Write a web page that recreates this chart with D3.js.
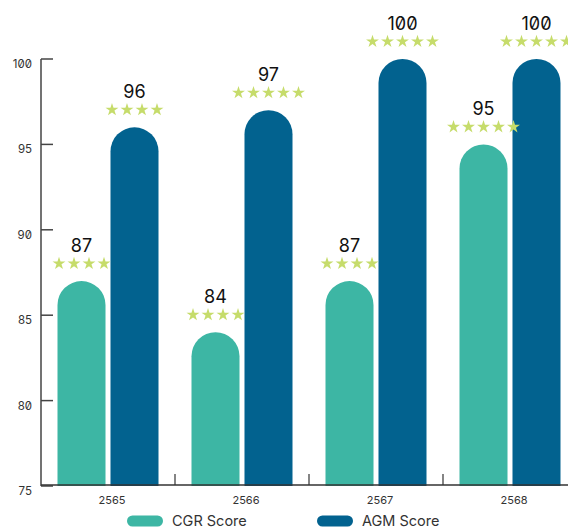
<!DOCTYPE html>
<html>
<head>
<meta charset="utf-8">
<script src="https://cdn.jsdelivr.net/npm/d3@7"></script>
<style>
  html, body { margin: 0; padding: 0; overflow: hidden; background: #fff; }
  svg { display: block; font-family: Inter, "Noto Sans", sans-serif; font-feature-settings: "zero" 1; }
</style>
</head>
<body>
<svg id="chart" width="568" height="530"></svg>
<script>
const years = ['2565', '2566', '2567', '2568'];
const seriesNames = ['CGR Score', 'AGM Score'];
const cgrScores = [87, 84, 87, 95];
const agmScores = [96, 97, 100, 100];
const cgrStars = [4, 4, 4, 5];
const agmStars = [4, 5, 5, 5];
const yTicks = [75, 80, 85, 90, 95, 100];
const colors = ['#3db6a4', '#02628f'];
const starColor = '#c6dc6b';

(function () {
const svg = d3.select('#chart');
const W = 568;
const plotLeft = 41, plotBottom = 486, plotTop = 59;

const y = d3.scaleLinear().domain([75, 100]).range([plotBottom, plotTop]);
const x0 = d3.scaleBand().domain(years).range([plotLeft, plotLeft + 134 * 4]).paddingInner(0).paddingOuter(0);
const x1 = d3.scaleBand().domain(seriesNames).range([16.5, 117.5]).paddingInner(0.094).paddingOuter(0);

const data = years.map((yr, i) => ({
  year: yr,
  bars: [
    { name: seriesNames[0], value: cgrScores[i], stars: cgrStars[i], color: colors[0] },
    { name: seriesNames[1], value: agmScores[i], stars: agmStars[i], color: colors[1] }
  ]
}));

function pillPath(xa, xb, yt, yb) {
  const r = (xb - xa) / 2;
  return `M${xa},${yb}L${xa},${yt + r}A${r},${r} 0 0 1 ${xb},${yt + r}L${xb},${yb}Z`;
}

const groups = svg.append('g').selectAll('g').data(data).join('g')
  .attr('transform', d => `translate(${x0(d.year)},0)`);

groups.selectAll('path.bar').data(d => d.bars).join('path')
  .attr('class', 'bar')
  .attr('fill', d => d.color)
  .attr('d', d => {
    const xa = x1(d.name), xb = xa + x1.bandwidth();
    return pillPath(xa, xb, y(d.value), y(75));
  });

groups.selectAll('text.val').data(d => d.bars).join('text')
  .attr('class', 'val')
  .attr('x', d => x1(d.name) + x1.bandwidth() / 2)
  .attr('y', d => y(d.value) - 29)
  .attr('text-anchor', 'middle')
  .attr('font-size', 18)
  .attr('fill', '#111')
  .text(d => d.value);

const starPath = d3.symbol().type(d3.symbolStar).size(52)();
groups.each(function (d) {
  const g = d3.select(this);
  d.bars.forEach(b => {
    const cx = x1(b.name) + x1.bandwidth() / 2;
    const cy = y(b.value) - 18;
    const n = b.stars, step = 15;
    for (let k = 0; k < n; k++) {
      const sx = cx + (k - (n - 1) / 2) * step;
      g.append('path').attr('d', starPath)
        .attr('transform', `translate(${sx},${cy + 0.5})`)
        .attr('fill', starColor);
    }
  });
});

const yAxis = svg.append('g');
yAxis.append('line').attr('x1', plotLeft).attr('x2', plotLeft).attr('y1', y(100)).attr('y2', y(75))
  .attr('stroke', '#444').attr('stroke-width', 1.5);
yAxis.selectAll('line.tick').data(yTicks).join('line')
  .attr('class', 'tick')
  .attr('x1', plotLeft).attr('x2', plotLeft + 12)
  .attr('y1', d => y(d)).attr('y2', d => y(d))
  .attr('stroke', '#444').attr('stroke-width', 1.5);
yAxis.selectAll('text').data(yTicks).join('text')
  .attr('x', 32).attr('y', d => y(d) + 9)
  .attr('text-anchor', 'end')
  .attr('font-size', 11.5)
  .attr('fill', '#333')
  .text(d => d);

const xAxis = svg.append('g');
xAxis.append('line').attr('x1', plotLeft).attr('x2', W).attr('y1', plotBottom - 1).attr('y2', plotBottom - 1)
  .attr('stroke', '#333').attr('stroke-width', 1.5);
xAxis.selectAll('line.tick').data(years.slice(1)).join('line')
  .attr('class', 'tick')
  .attr('x1', d => x0(d)).attr('x2', d => x0(d))
  .attr('y1', plotBottom - 1).attr('y2', plotBottom - 12)
  .attr('stroke', '#333').attr('stroke-width', 1.2);
xAxis.selectAll('text').data(years).join('text')
  .attr('x', d => x0(d) + x0.bandwidth() / 2 + 4)
  .attr('y', 504)
  .attr('text-anchor', 'middle')
  .attr('font-size', 11)
  .attr('fill', '#333')
  .text(d => d);

const legendX = [127, 317];
const legend = svg.append('g').selectAll('g').data(seriesNames).join('g')
  .attr('transform', (d, i) => `translate(${legendX[i]},521)`);
legend.append('rect').attr('x', 0).attr('y', -5.5).attr('width', 36).attr('height', 11).attr('rx', 5.5)
  .attr('fill', (d, i) => colors[i]);
legend.append('text').attr('x', 45).attr('y', 5).attr('font-size', 14.5).attr('fill', '#333')
  .text(d => d);
})();
</script>
</body>
</html>
